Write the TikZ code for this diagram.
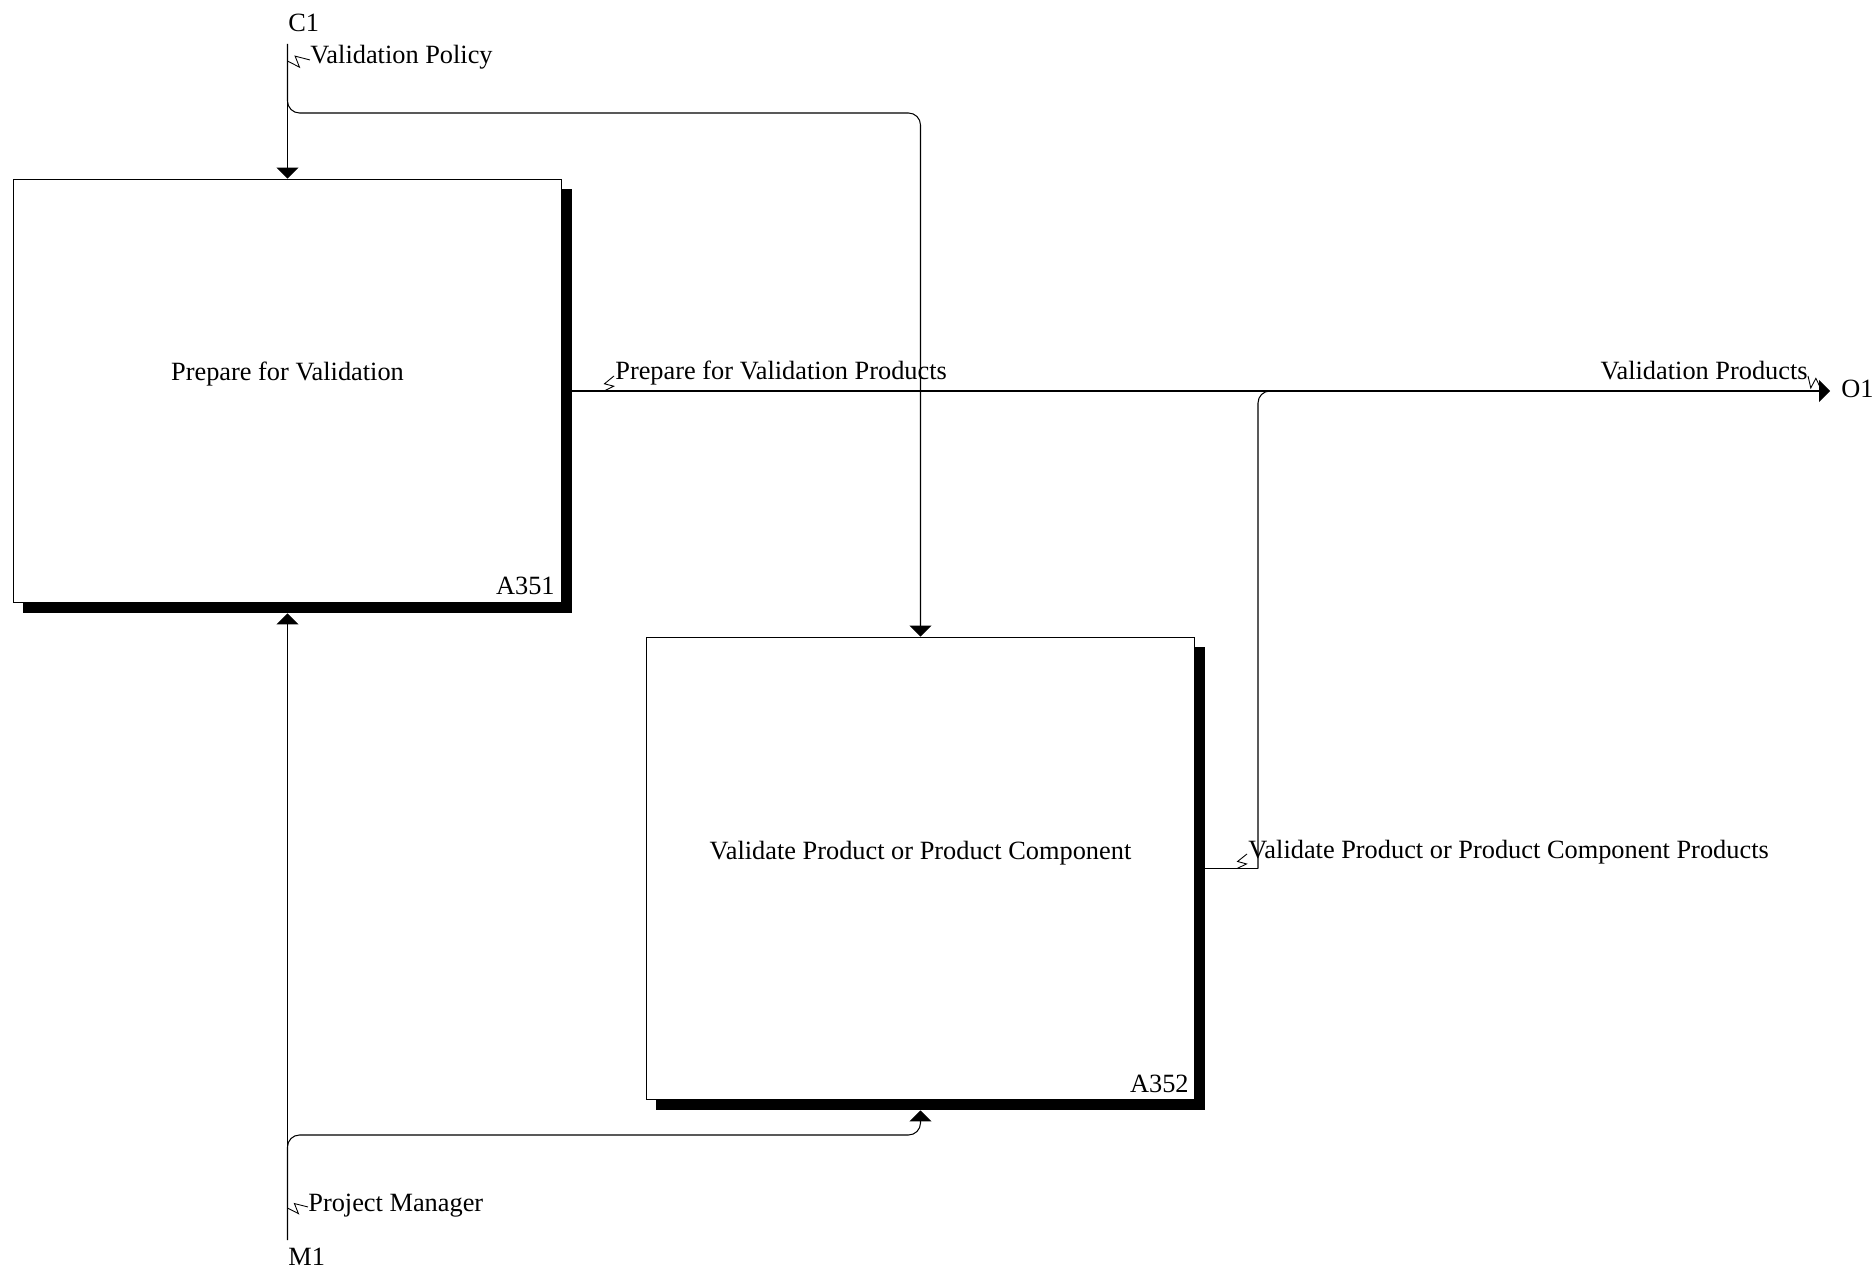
\documentclass[tikz,border=0pt]{standalone}
\usepackage{fontspec}
\setmainfont{Liberation Serif}
\usetikzlibrary{arrows.meta, positioning, calc, shadows}

\begin{document}
\begin{tikzpicture}[
  x=0.02cm, y=-0.02cm,
  font=\fontsize{15}{18}\selectfont,
  activity/.style={rectangle, draw, fill=white, line width=0.6pt, inner sep=0pt, drop shadow={shadow xshift=0.2cm, shadow yshift=-0.2cm, opacity=1, fill=black}},
  arrow/.style={-{Triangle[width=0.44cm, length=0.22cm]}, line width=0.6pt},
  line/.style={line width=0.6pt, rounded corners=0.24cm},
  squig/.style={line width=0.5pt, to path={-- ($(\tikztostart)!0.6!-30:(\tikztotarget)$) -- ($(\tikztostart)!0.4!30:(\tikztotarget)$) -- (\tikztotarget)}},
  lbl/.style={inner sep=0pt}
]
\useasboundingbox (0,0) rectangle (1873,1270);

% Activity boxes
\node[activity, minimum width=10.98cm, minimum height=8.48cm] (prep) at (287.5,391) {};
\node[lbl, anchor=base] (prept) at (287.5,381) {Prepare for Validation};
\node[lbl, anchor=base east] (prepn) at (555,594) {A351};

\node[activity, minimum width=10.98cm, minimum height=9.26cm] (valid) at (920.5,868.5) {};
\node[lbl, anchor=base] (validt) at (920.5,859) {Validate Product or Product Component};
\node[lbl, anchor=base east] (validn) at (1189,1092) {A352};

% Boundary points
\coordinate (c1) at (287.5,44);
\coordinate (m1) at (287.5,1240);
\coordinate (o1) at (1830,391);
\coordinate (join) at (1258,868.5);
\node[lbl, anchor=base west] (c1t) at (288,32) {C1};
\node[lbl, anchor=base west] (m1t) at (288,1265) {M1};
\node[lbl, anchor=west] (o1t) at (1841,389) {O1};

% Control
\draw[arrow] (c1) -- (c1 |- prep.north);
\draw[line, arrow] (c1) -- (287.5,113) -- (920.5,113) -- (valid.north);
\node[lbl, anchor=base west] (vpol) at (310,64) {Validation Policy};
\draw[squig] (287.5,61) to (vpol.mid west);

% Outputs
\draw[arrow] (prep.east) -- (o1);
\node[lbl, anchor=base west] (prepo) at (615,380) {Prepare for Validation Products};
\draw[squig] (604,391) to ([xshift=-0.02cm]prepo.mid west);
\node[lbl, anchor=base east] (vprod) at (1808,380) {Validation Products};
\draw[squig] (vprod.mid east) to ([xshift=-0.16cm]o1);

\draw[line width=0.6pt] (valid.east) -- (join);
\draw[line] (join) -- (1258,391) -- (1300,391);
\node[lbl, anchor=base west] (valido) at (1248,858) {Validate Product or Product Component Products};
\draw[squig] (1237,868.5) to ([xshift=-0.02cm]valido.mid west);

% Mechanism
\draw[arrow] (m1) -- ([yshift=-0.2cm]prep.south);
\draw[line, arrow] (m1) -- (287.5,1135) -- (920.5,1135) -- ([yshift=-0.2cm]valid.south);
\node[lbl, anchor=base west] (pman) at (308,1211) {Project Manager};
\draw[squig] (287.5,1208) to (pman.mid west);

\end{tikzpicture}
\end{document}
